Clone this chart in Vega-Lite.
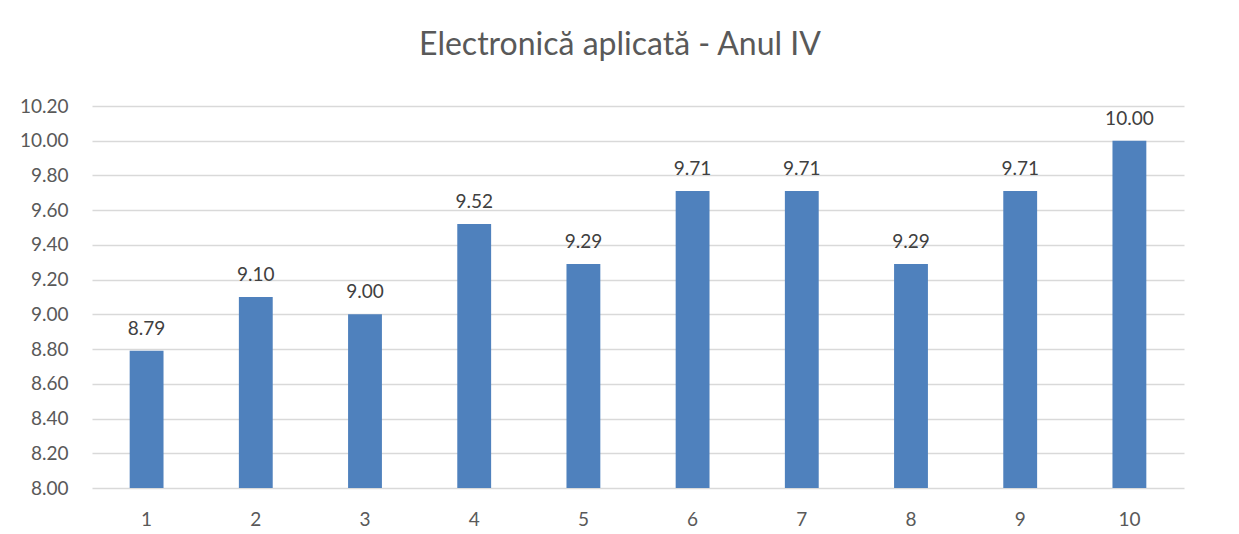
{
  "$schema": "https://vega.github.io/schema/vega-lite/v6.json",
  "width": 1092,
  "height": 382,
  "autosize": {"type": "none"},
  "padding": {"left": 92, "top": 106, "right": 55, "bottom": 46},
  "background": "white",
  "title": {
    "text": "Electronică aplicată - Anul IV",
    "font": "Lato",
    "fontSize": 32,
    "fontWeight": "normal",
    "color": "#595959",
    "anchor": "middle",
    "dx": -18,
    "offset": 35
  },
  "data": {
    "values": [
      {"nr": "1", "medie": 8.79},
      {"nr": "2", "medie": 9.10},
      {"nr": "3", "medie": 9.00},
      {"nr": "4", "medie": 9.52},
      {"nr": "5", "medie": 9.29},
      {"nr": "6", "medie": 9.71},
      {"nr": "7", "medie": 9.71},
      {"nr": "8", "medie": 9.29},
      {"nr": "9", "medie": 9.71},
      {"nr": "10", "medie": 10.00}
    ]
  },
  "encoding": {
    "x": {
      "field": "nr",
      "type": "ordinal",
      "sort": null,
      "scale": {"paddingInner": 0.69, "paddingOuter": 0.345},
      "axis": {
        "title": null,
        "labelAngle": 0,
        "ticks": false,
        "domain": false,
        "labelPadding": 22,
        "labelFont": "Lato",
        "labelFontSize": 19,
        "labelColor": "#595959"
      }
    },
    "y": {
      "field": "medie",
      "type": "quantitative",
      "scale": {"domain": [8, 10.2], "zero": false, "nice": false},
      "axis": {
        "title": null,
        "values": [8, 8.2, 8.4, 8.6, 8.8, 9, 9.2, 9.4, 9.6, 9.8, 10, 10.2],
        "format": ".2f",
        "ticks": false,
        "domain": false,
        "labelPadding": 24,
        "labelFont": "Lato",
        "labelFontSize": 19,
        "labelColor": "#595959",
        "gridColor": "#D9D9D9",
        "gridWidth": 1.3
      }
    }
  },
  "layer": [
    {
      "mark": {"type": "bar", "color": "#4F81BD"},
      "encoding": {"y2": {"datum": 8}}
    },
    {
      "mark": {
        "type": "text",
        "baseline": "bottom",
        "dy": -12,
        "font": "Lato",
        "fontSize": 19,
        "color": "#404040"
      },
      "encoding": {"text": {"field": "medie", "type": "quantitative", "format": ".2f"}}
    }
  ],
  "config": {"view": {"stroke": null}}
}
